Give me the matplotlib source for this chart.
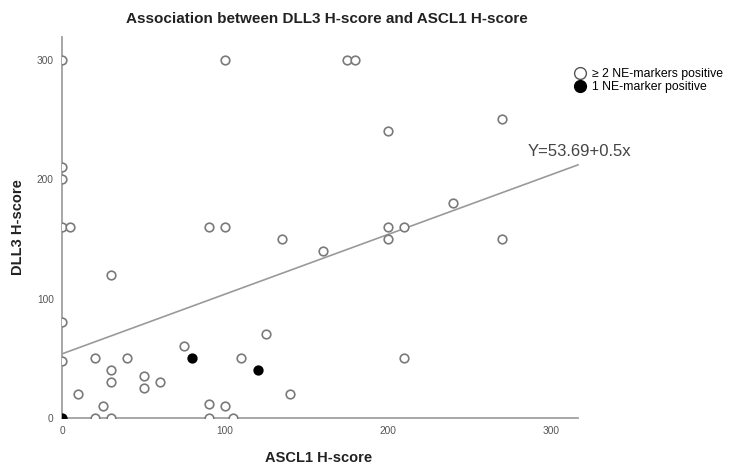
import matplotlib
matplotlib.use("Agg")
import matplotlib.pyplot as plt
from matplotlib.lines import Line2D
import numpy as np

plt.rcParams['font.family'] = ['Liberation Sans', 'DejaVu Sans']

# ASCL1 / DLL3 H-scores, cases with >= 2 NE markers positive
ascl1_multi = [0, 100, 175, 180, 0, 0, 0, 5, 90, 100, 30, 0, 0, 20, 40, 30, 30,
               50, 50, 60, 10, 25, 20, 30, 90, 100, 90, 105, 75, 110, 125, 140,
               135, 160, 200, 210, 200, 210, 200, 240, 270, 270]
dll3_multi = [300, 300, 300, 300, 210, 200, 160, 160, 160, 160, 120, 80, 48, 50,
              50, 40, 30, 35, 25, 30, 20, 10, 0, 0, 12, 10, 0, 0, 60, 50, 70, 20,
              150, 140, 160, 160, 150, 50, 240, 180, 250, 150]

# Cases with a single NE marker positive
ascl1_single = [0, 80, 120]
dll3_single = [0, 50, 40]

# Linear fit
intercept = 53.69
slope = 0.5
fit_label = "Y=53.69+0.5x"

x_ticks = [0, 100, 200, 300]
y_ticks = [0, 100, 200, 300]
x_max = 316.5
y_max = 319

fig = plt.figure(figsize=(7.33, 4.66), dpi=100)
ax = fig.add_axes([62 / 733, 1 - 418 / 466, (578 - 62) / 733, (418 - 37) / 466])

ax.set_xlim(0, x_max)
ax.set_ylim(0, y_max)

marker_kw = dict(linestyle='none', marker='o', markersize=6.2, markeredgewidth=1.2)
ax.plot(ascl1_multi, dll3_multi, markerfacecolor='white', markeredgecolor='#7a7a7a',
        zorder=3, **marker_kw)
ax.plot(ascl1_single, dll3_single, markerfacecolor='black', markeredgecolor='black',
        zorder=4, **marker_kw)

xs = np.array([0, x_max])
ax.plot(xs, intercept + slope * xs, color='#9a9a9a', linewidth=1.2, zorder=2,
        clip_on=False)

fig.text(528 / 733, 1 - 151 / 466, fit_label, fontsize=12, color='#444444',
         ha='left', va='center')

for side in ('top', 'right'):
    ax.spines[side].set_visible(False)
for side in ('left', 'bottom'):
    ax.spines[side].set_color('#a0a0a0')
    ax.spines[side].set_linewidth(1.3)

ax.set_xticks(x_ticks)
ax.set_yticks(y_ticks)
ax.tick_params(length=0, labelsize=7.3, labelcolor='#555555')
ax.tick_params(axis='x', pad=6)
ax.tick_params(axis='y', pad=6)

ax.set_xlabel('ASCL1 H-score', fontsize=10.5, fontweight='bold', color='#222222')
ax.xaxis.set_label_coords((319 - 62) / 516, -(458 - 418) / 381)
ax.set_ylabel('DLL3 H-score', fontsize=10.5, fontweight='bold', color='#222222')
ax.yaxis.set_label_coords((18 - 62) / 516, (418 - 227) / 381)
ax.xaxis.label.set_va('center')
ax.yaxis.label.set_va('center')

fig.text(327 / 733, 1 - 19 / 466, 'Association between DLL3 H-score and ASCL1 H-score',
         fontsize=11, fontweight='bold', color='#222222', ha='center', va='center')

handles = [
    Line2D([], [], linestyle='none', marker='o', markersize=8.5, markerfacecolor='white',
           markeredgecolor='#555555', markeredgewidth=1.0),
    Line2D([], [], linestyle='none', marker='o', markersize=8.5, markerfacecolor='black',
           markeredgecolor='black'),
]
fig.legend(handles, ['\u2265 2 NE-markers positive', '1 NE-marker positive'],
           loc='upper left', bbox_to_anchor=(574 / 733, 1 - 68 / 466), frameon=False,
           fontsize=8.8, handletextpad=0.45, handlelength=1.0, labelspacing=0.1,
           borderaxespad=0, borderpad=0)

fig.savefig('out.png', dpi=100)
